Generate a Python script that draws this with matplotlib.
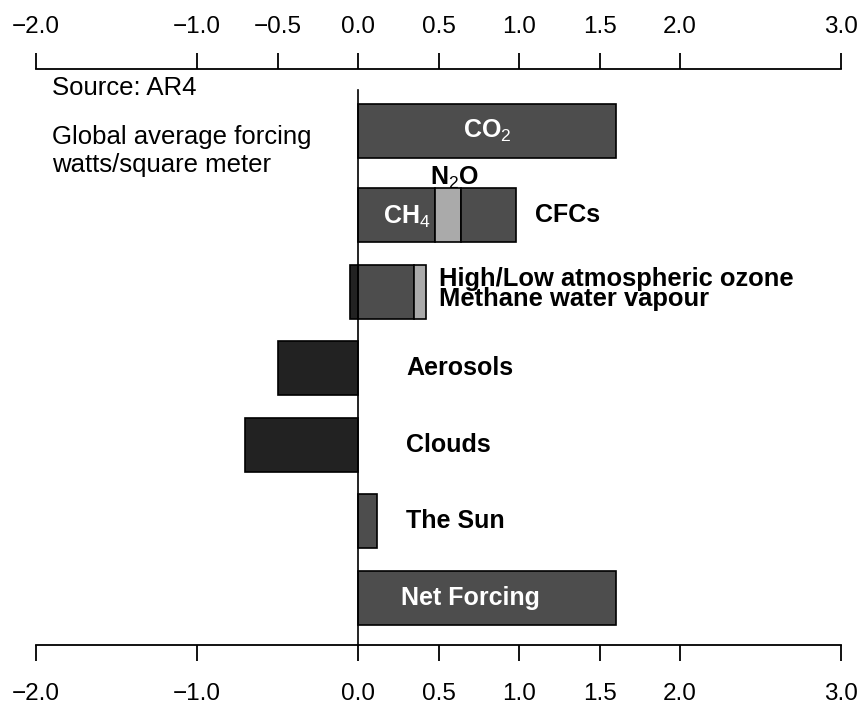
import matplotlib.pyplot as plt

plt.rcParams['font.family'] = ['Liberation Sans', 'DejaVu Sans']
plt.rcParams['mathtext.fontset'] = 'custom'
plt.rcParams['mathtext.rm'] = 'Liberation Sans'
plt.rcParams['mathtext.bf'] = 'Liberation Sans:bold'

# forcing values (W/m2)
ypos = [0, 1.1, 2.1, 3.1, 4.1, 5.1, 6.1]
co2 = 1.6
ch4 = 0.48
n2o = 0.16
cfcs = 0.34
ozone_neg = -0.05
ozone_pos = 0.35
methane_wv = 0.07
aerosols = -0.5
clouds = -0.7
sun = 0.12
net = 1.6

top_ticks = [-2, -1, -0.5, 0, 0.5, 1, 1.5, 2, 3]
bot_ticks = [-2, -1, 0, 0.5, 1, 1.5, 2, 3]


def fmt(t):
    return ('%.1f' % t).replace('-', '\u2212')


mid = '#4d4d4d'
dark = '#222222'
light = '#aaaaaa'
ekw = dict(edgecolor='black', linewidth=1.2, height=0.705)

fig = plt.figure(figsize=(8.62, 7.06), dpi=100)
ax = fig.add_axes([0.0418, 0.0864, 0.9339, 0.8159])

ax.barh(ypos[0], co2, color=mid, **ekw)
ax.barh(ypos[1], ch4, color=mid, **ekw)
ax.barh(ypos[1], n2o, left=ch4, color=light, **ekw)
ax.barh(ypos[1], cfcs, left=ch4 + n2o, color=mid, **ekw)
ax.barh(ypos[2], ozone_neg, color=dark, **ekw)
ax.barh(ypos[2], ozone_pos, color=mid, **ekw)
ax.barh(ypos[2], methane_wv, left=ozone_pos, color=light, **ekw)
ax.barh(ypos[3], aerosols, color=dark, **ekw)
ax.barh(ypos[4], clouds, color=dark, **ekw)
ax.barh(ypos[5], sun, color=mid, **ekw)
ax.barh(ypos[6], net, color=mid, **ekw)

ax.set_xlim(-2, 3)
ax.set_ylim(6.72, -0.81)
ax.plot([0, 0], [-0.536, 6.72], color='black', lw=1.2, zorder=5, clip_on=False)

# spines / ticks
for s in ['left', 'right', 'top']:
    ax.spines[s].set_visible(False)
ax.spines['bottom'].set_linewidth(1.3)
ax.set_yticks([])
ax.set_xticks(bot_ticks)
ax.set_xticklabels([fmt(t) for t in bot_ticks])
ax.tick_params(axis='x', direction='out', length=11.5, width=1.3, pad=16, labelsize=17.5)

ax2 = ax.twiny()
ax2.set_xlim(-2, 3)
for s in ['left', 'right', 'bottom']:
    ax2.spines[s].set_visible(False)
ax2.spines['top'].set_linewidth(1.3)
ax2.set_xticks(top_ticks)
ax2.set_xticklabels([fmt(t) for t in top_ticks])
ax2.tick_params(axis='x', direction='out', length=11.5, width=1.3, pad=11, labelsize=17.5)

# labels
bfs = 18
ax.text(co2 / 2, ypos[0], r'CO$_2$', color='white', fontsize=bfs, fontweight='bold',
        ha='center', va='center')
ax.text(0.30, ypos[1] + 0.03, r'CH$_4$', color='white', fontsize=bfs, fontweight='bold',
        ha='center', va='center')
ax.text(0.60, ypos[1] - 0.48, r'N$_2$O', color='black', fontsize=bfs, fontweight='bold',
        ha='center', va='center')
ax.text(1.10, ypos[1], 'CFCs', fontsize=bfs, fontweight='bold', ha='left', va='center')
ax.text(0.50, ypos[2] - 0.075, 'High/Low atmospheric ozone', fontsize=18.4,
        fontweight='bold', ha='left', va='baseline')
ax.text(0.50, ypos[2] + 0.185, 'Methane water vapour', fontsize=18.4,
        fontweight='bold', ha='left', va='baseline')
ax.text(0.30, ypos[3], 'Aerosols', fontsize=bfs, fontweight='bold', ha='left', va='center')
ax.text(0.30, ypos[4], 'Clouds', fontsize=bfs, fontweight='bold', ha='left', va='center')
ax.text(0.30, ypos[5], 'The Sun', fontsize=bfs, fontweight='bold', ha='left', va='center')
ax.text(net / 2 - 0.1, ypos[6], 'Net Forcing', color='white', fontsize=bfs, fontweight='bold',
        ha='center', va='center')

ax.text(-1.9, -0.56, 'Source: AR4', fontsize=18.5, ha='left', va='center')
ax.text(-1.9, 0.26, 'Global average forcing\nwatts/square meter', fontsize=18.5,
        ha='left', va='center', linespacing=1.2)

plt.savefig('out.png', dpi=100)
